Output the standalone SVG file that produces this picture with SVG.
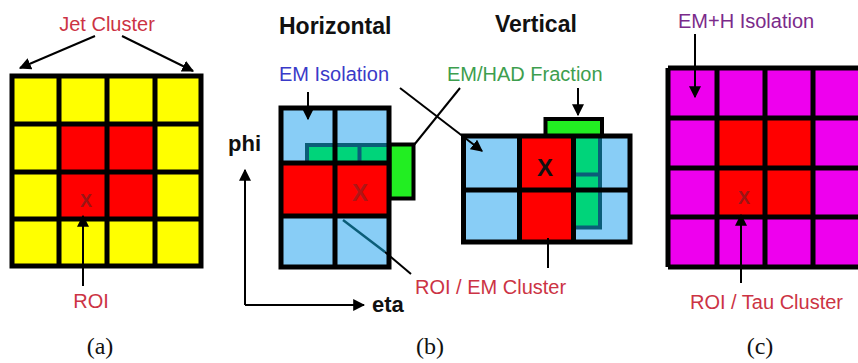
<svg xmlns="http://www.w3.org/2000/svg" width="858" height="363" viewBox="0 0 858 363">
<style>
.lbl{font-family:"Liberation Sans",Arial,sans-serif;font-size:20px}
.bold{font-family:"Liberation Sans",Arial,sans-serif;font-weight:bold}
.cap{font-family:"Liberation Serif","Times New Roman",serif;font-size:24px;fill:#111}
.red{fill:#cc3344}
.y{fill:#ffff00}.r{fill:#ff0000}.b{fill:#88cdf6}.m{fill:#ee00ee}
.grid{fill:none;stroke:#000;stroke-width:5;stroke-linejoin:miter}
.con{fill:none;stroke:#000;stroke-width:2}
.teal{fill:none;stroke:#0b5d78;stroke-width:4}
.gs{fill:#00d47a}
.tab{fill:#22ee22;stroke:#000;stroke-width:4}
</style>
<defs>
<marker id="ah" viewBox="0 0 10 10" refX="9" refY="5" markerWidth="6" markerHeight="6" orient="auto" markerUnits="strokeWidth">
<path d="M0,0 L10,5 L0,10 z" fill="#000"/>
</marker>
</defs>
<rect width="858" height="363" fill="#fff"/>

<g id="jet-grid">
<rect class="y" x="12" y="76" width="189" height="190"/>
<rect class="r" x="59" y="124" width="96" height="95"/>
<path class="grid" d="M12,76 H201 V266 H12 Z M59,76 V266 M107,76 V266 M155,76 V266 M12,124 H201 M12,172 H201 M12,219 H201"/>
<text class="bold" x="86" y="207" font-size="18" fill="#9a1515" text-anchor="middle">X</text>
</g>

<g id="h-grid">
<rect class="b" x="281" y="108" width="108" height="55"/>
<rect class="r" x="281" y="163" width="108" height="53"/>
<rect class="b" x="281" y="216" width="108" height="51"/>
<rect class="gs" x="307" y="145" width="80" height="17"/>
<path class="teal" d="M307,163 V145 H387 M359.5,145 V163"/>
<rect class="tab" x="389.5" y="144.5" width="24" height="54"/>
<path class="grid" d="M281,108 H389 V267 H281 Z M335,108 V267 M281,163 H389 M281,216 H389"/>
<text class="bold" x="360" y="201" font-size="24" fill="#b01515" text-anchor="middle">X</text>
</g>

<g id="v-grid">
<rect class="b" x="463.5" y="136" width="166.5" height="106"/>
<rect class="r" x="519.5" y="136" width="54" height="106"/>
<rect class="gs" x="576" y="138" width="23" height="88"/>
<path class="teal" d="M576,174.5 H599 M600,138 V227.5 H576"/>
<rect class="tab" x="545.5" y="119" width="56.5" height="17"/>
<path class="grid" d="M463.5,136 H630 V242 H463.5 Z M519.5,136 V242 M573.5,136 V242 M463.5,190 H630"/>
<text class="bold" x="545" y="176" font-size="24" fill="#111" text-anchor="middle">X</text>
</g>

<g id="tau-grid">
<rect class="m" x="668" y="68" width="195" height="199"/>
<rect class="r" x="717" y="118" width="96" height="99"/>
<path class="grid" d="M668,68 H870 M668,267 H870 M668,68 V267 M717,68 V267 M765,68 V267 M813,68 V267 M668,118 H870 M668,168 H870 M668,217 H870"/>
<text class="bold" x="744" y="204" font-size="18" fill="#9a1515" text-anchor="middle">X</text>
</g>

<g id="axes">
<path class="con" d="M245,305 V170" marker-end="url(#ah)"/>
<path class="con" d="M245,305 H364" marker-end="url(#ah)"/>
<text class="bold" x="228" y="151" font-size="22" fill="#111">phi</text>
<text class="bold" x="372" y="312" font-size="22" fill="#111">eta</text>
</g>

<g id="connectors">
<path class="con" d="M95,36 L20,68" stroke-width="1.6" marker-end="url(#ah)"/>
<path class="con" d="M122,36 L193,71" stroke-width="1.6" marker-end="url(#ah)"/>
<path class="con" d="M83,286 V216" stroke-width="1.6" marker-end="url(#ah)"/>
<path class="con" d="M308,92 V119" marker-end="url(#ah)"/>
<path class="con" d="M400,88 L482,151" stroke-width="2.5" marker-end="url(#ah)"/>
<path class="con" d="M460,88 L414,145" stroke-width="2.5"/>
<path class="con" d="M578,88 V115" marker-end="url(#ah)"/>
<path d="M343,220 L385,252" fill="none" stroke="#0b5d78" stroke-width="2.5"/>
<path class="con" d="M385,252 L411,274" stroke-width="2.5"/>
<path class="con" d="M548,238 V268"/>
<path class="con" d="M741,283 V215" stroke-width="1.6" marker-end="url(#ah)"/>
<path class="con" d="M695,34 V97" stroke-width="1.6" marker-end="url(#ah)"/>
</g>

<g id="labels">
<text class="lbl red" x="107" y="31" text-anchor="middle">Jet Cluster</text>
<text class="lbl red" x="91" y="308" text-anchor="middle" font-size="19">ROI</text>
<text class="bold" x="279" y="34" font-size="23" fill="#111">Horizontal</text>
<text class="bold" x="495" y="32" font-size="23" fill="#111">Vertical</text>
<text class="lbl" x="279" y="81" font-size="21" fill="#3a3ac8">EM Isolation</text>
<text class="lbl" x="447" y="81" font-size="21" fill="#3d9e4e">EM/HAD Fraction</text>
<text class="lbl red" x="415" y="294" font-size="21">ROI / EM Cluster</text>
<text class="lbl" x="678" y="28" fill="#7b2a8a">EM+H Isolation</text>
<text class="lbl red" x="690" y="309">ROI / Tau Cluster</text>
<text class="cap" x="100" y="354" text-anchor="middle">(a)</text>
<text class="cap" x="430" y="354" text-anchor="middle">(b)</text>
<text class="cap" x="760" y="354" text-anchor="middle">(c)</text>
</g>
</svg>
